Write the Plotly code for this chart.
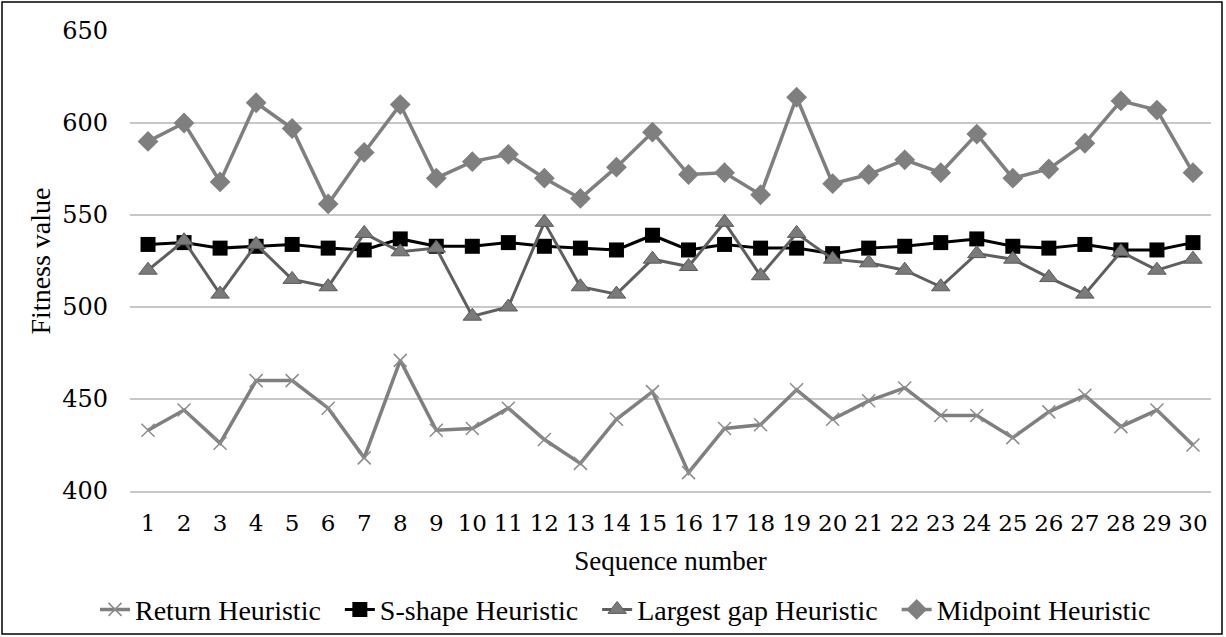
import plotly.graph_objects as go

seq = list(range(1, 31))
tick_labels = [str(i) for i in seq]

return_h = [433, 444, 426, 460, 460, 445, 418, 471, 433, 434,
            445, 428, 415, 439, 454, 410, 434, 436, 455, 439,
            449, 456, 441, 441, 429, 443, 452, 435, 444, 425]
s_shape_h = [534, 535, 532, 533, 534, 532, 531, 537, 533, 533,
             535, 533, 532, 531, 539, 531, 534, 532, 532, 529,
             532, 533, 535, 537, 533, 532, 534, 531, 531, 535]
largest_gap_h = [520, 536, 507, 534, 515, 511, 540, 530, 532, 495,
                 500, 546, 511, 507, 526, 522, 546, 517, 540, 526,
                 524, 520, 511, 529, 526, 516, 507, 530, 520, 526]
midpoint_h = [590, 600, 568, 611, 597, 556, 584, 610, 570, 579,
              583, 570, 559, 576, 595, 572, 573, 561, 614, 567,
              572, 580, 573, 594, 570, 575, 589, 612, 607, 573]

W, H = 1226, 637
ML, MR, MT, MB = 130, 15, 31, 146
SP = "\u00a0\u00a0"

fig = go.Figure()
fig.add_trace(go.Scatter(
    x=seq, y=return_h, name="Return Heuristic" + SP, mode="lines+markers",
    line=dict(color="#7f7f7f", width=3.5),
    marker=dict(symbol="x-thin", size=13, line=dict(color="#8c8c8c", width=1.5))))
fig.add_trace(go.Scatter(
    x=seq, y=s_shape_h, name="S-shape Heuristic" + SP, mode="lines+markers",
    line=dict(color="#000000", width=3),
    marker=dict(symbol="square", size=15, color="#000000")))
fig.add_trace(go.Scatter(
    x=seq, y=largest_gap_h, name="Largest gap Heuristic" + SP, mode="lines+markers",
    line=dict(color="#5f5f5f", width=3),
    marker=dict(symbol="triangle-up", size=16, color="#7a7a7a",
                line=dict(color="#5a5a5a", width=1))))
fig.add_trace(go.Scatter(
    x=seq, y=midpoint_h, name="Midpoint Heuristic", mode="lines+markers",
    line=dict(color="#7f7f7f", width=3.5),
    marker=dict(symbol="diamond", size=16, color="#7f7f7f")))

pw = W - ML - MR
ph = H - MT - MB
bottom_px = H - MB
fig.add_shape(type="rect", xref="paper", yref="paper",
              x0=(2 - ML) / pw, x1=(W - 4 - ML) / pw,
              y0=(bottom_px - (H - 3)) / ph, y1=(bottom_px - 2) / ph,
              line=dict(color="#000000", width=1.5), fillcolor="rgba(0,0,0,0)",
              layer="below")

fig.update_layout(
    width=W, height=H,
    margin=dict(l=ML, r=MR, t=MT, b=MB, autoexpand=False),
    paper_bgcolor="white", plot_bgcolor="white",
    showlegend=True,
    legend=dict(orientation="h", x=(95 - ML) / pw, xanchor="left",
                y=-0.258, yanchor="middle", bgcolor="rgba(0,0,0,0)",
                font=dict(family="Liberation Serif", size=28, color="#000000"),
                itemwidth=30, tracegroupgap=0),
    xaxis=dict(range=[0.5, 30.5], tickmode="array", tickvals=seq, ticktext=tick_labels,
               showgrid=False, zeroline=False, showline=True, linecolor="#c8c8c8",
               linewidth=1.5, ticks="", ticklabelstandoff=11, automargin=False,
               tickfont=dict(family="DejaVu Serif", size=23, color="#000000"),
               title=dict(text="Sequence number", standoff=16,
                          font=dict(family="Liberation Serif", size=27, color="#000000"))),
    yaxis=dict(range=[400, 650], tickmode="array", tickvals=[400, 450, 500, 550, 600, 650],
               showgrid=True, gridcolor="#c8c8c8", gridwidth=1.5, zeroline=False,
               showline=False, ticks="", ticklabelstandoff=21, automargin=False,
               tickfont=dict(family="DejaVu Serif", size=24, color="#000000"),
               title=dict(text="Fitness value", standoff=3,
                          font=dict(family="Liberation Serif", size=28, color="#000000"))),
)

fig.write_html("out.html")
